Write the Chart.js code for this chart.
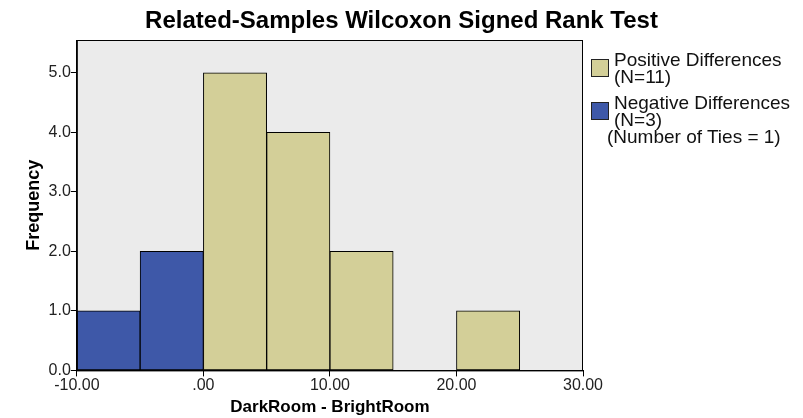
<!DOCTYPE html>
<html>
<head>
<meta charset="utf-8">
<script src="https://cdn.jsdelivr.net/npm/chart.js@4.4.1/dist/chart.umd.min.js"></script>
<style>
  body { margin: 0; background: #fff; }
  #wrap { position: relative; width: 803px; height: 418px; font-family: "Liberation Sans", Arial, sans-serif; }
  #title { position: absolute; left: 0; top: 6px; width: 803px; text-align: center; font-size: 24px; font-weight: bold; color: #000; }
  #legend { position: absolute; left: 590px; top: 51px; font-size: 19px; color: #111; line-height: 17px; }
  .item { position: relative; padding-left: 24px; margin-bottom: 9px; }
  .box { position: absolute; left: 1px; top: 8px; width: 16px; height: 16px; border: 1px solid #222; }
</style>
</head>
<body>
<div id="wrap">
  <canvas id="chart" width="803" height="418"></canvas>
  <div id="title">Related-Samples Wilcoxon Signed Rank Test</div>
  <div id="legend">
    <div class="item"><span class="box" style="background:#d3cf98"></span>Positive Differences<br>(N=11)</div>
    <div class="item"><span class="box" style="background:#3e58a8"></span>Negative Differences<br>(N=3)<br><span style="margin-left:-7px">(Number of Ties = 1)</span></div>
  </div>
</div>
<script>
// bin centres (width 5) and counts
let posBins = [2.5, 7.5, 12.5, 22.5];
let posCounts = [5, 4, 2, 1];
let negBins = [-7.5, -2.5];
let negCounts = [1, 2];
let xTicks = [-10, 0, 10, 20, 30];

const plotBg = {
    id: "plotBg",
    beforeDraw(chart) {
        const a = chart.chartArea, ctx = chart.ctx;
        ctx.save();
        ctx.fillStyle = "#ebebeb";
        ctx.fillRect(a.left, a.top, a.right - a.left, a.bottom - a.top);
        ctx.restore();
    },
    afterDraw(chart) {
        const a = chart.chartArea, ctx = chart.ctx;
        ctx.save();
        ctx.strokeStyle = "#000";
        ctx.lineWidth = 1;
        ctx.strokeRect(a.left + 0.5, a.top + 0.5, a.right - a.left - 1, a.bottom - a.top);
        ctx.restore();
    }
};

let chart = new Chart(document.getElementById("chart"), {
    type: "bar",
    data: {
        datasets: [{
            label: "Positive Differences",
            data: posBins.map((x, i) => ({ x: x, y: posCounts[i] })),
            backgroundColor: "#d3cf98",
            borderColor: "#000",
            borderWidth: 1,
            borderSkipped: false
        }, {
            label: "Negative Differences",
            data: negBins.map((x, i) => ({ x: x, y: negCounts[i] })),
            backgroundColor: "#3e58a8",
            borderColor: "#000",
            borderWidth: 1,
            borderSkipped: false
        }]
    },
    options: {
        responsive: false,
        animation: false,
        grouped: false,
        barPercentage: 1,
        categoryPercentage: 1,
        layout: { padding: { left: 23, right: 220, top: 40, bottom: 0 } },
        plugins: {
            legend: { display: false },
            tooltip: { enabled: false }
        },
        scales: {
            x: {
                type: "linear",
                offset: false,
                min: -10,
                max: 30,
                afterBuildTicks: s => { s.ticks = xTicks.map(v => ({ value: v })); },
                ticks: {
                    color: "#222",
                    font: { family: "Liberation Sans", size: 16 },
                    padding: 0,
                    maxRotation: 0,
                    callback: v => v === 0 ? ".00" : v.toFixed(2)
                },
                grid: { offset: false, drawOnChartArea: false, drawTicks: true, tickLength: 6, color: "#000" },
                border: { display: true, color: "#000" },
                title: {
                    display: true,
                    text: "DarkRoom - BrightRoom",
                    color: "#000",
                    font: { family: "Liberation Sans", size: 17, weight: "bold" },
                    padding: { top: 2, bottom: 0 }
                }
            },
            y: {
                min: 0,
                max: 5.55,
                afterBuildTicks: s => { s.ticks = s.ticks.filter(t => Number.isInteger(t.value)); },
                ticks: {
                    stepSize: 1,
                    color: "#222",
                    font: { family: "Liberation Sans", size: 16 },
                    padding: 0,
                    callback: v => v.toFixed(1)
                },
                grid: { drawOnChartArea: false, drawTicks: true, tickLength: 6, color: "#000" },
                border: { display: true, color: "#000" },
                title: {
                    display: true,
                    text: "Frequency",
                    color: "#000",
                    font: { family: "Liberation Sans", size: 18, weight: "bold" },
                    padding: { top: 0, bottom: 4 }
                }
            }
        }
    },
    plugins: [plotBg]
});
</script>
</body>
</html>
